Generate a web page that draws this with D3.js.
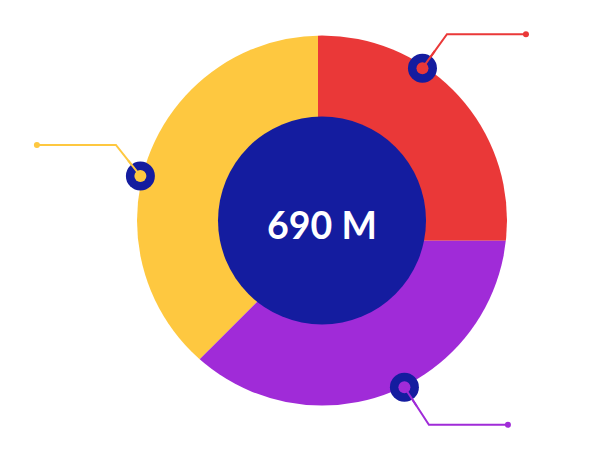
<!DOCTYPE html>
<html>
<head>
<meta charset="utf-8">
<script src="https://cdn.jsdelivr.net/npm/d3@7"></script>
<style>
  html, body { margin: 0; padding: 0; background: #fff; }
  svg { display: block; }
</style>
</head>
<body>
<div id="chart"></div>
<script>
// slice data (clockwise from 12 o'clock)
var labels = ["Red", "Purple", "Yellow"];
var values = [25, 37.5, 37.5];
var colors = ["#ea3838", "#a02bd8", "#fec840"];
// where each marker sits on the rim (degrees, clockwise from top)
var markerAngles = [33.4, 153.7, 283.8];
var totalLabel = "690 M";

var width = 614;
var height = 457;

// ring geometry
var cx = 322, cy = 220.5;
var outerR = 185;
var innerR = 104;
// slices fan out from a point a bit below-left of the ring centre
var pieX = 318, pieY = 240.7;

// marker radius + leader elbow rise, per slice
var markRs = [182.5, 186, 187];
var rises = [-34, 37.5, -31];

var svg = d3.select("#chart")
    .append("svg")
    .attr("width", width)
    .attr("height", height);

svg.append("clipPath")
    .attr("id", "ringClip")
    .append("circle")
    .attr("cx", cx)
    .attr("cy", cy)
    .attr("r", outerR);

var pie = d3.pie().sort(null).value(function(d){ return d; });
var arc = d3.arc().innerRadius(0).outerRadius(400);

var slices = svg.append("g")
    .attr("clip-path", "url(#ringClip)")
    .append("g")
    .attr("transform", "translate(" + pieX + "," + pieY + ")");

slices.selectAll("path")
    .data(pie(values))
    .enter()
    .append("path")
    .attr("d", arc)
    .attr("fill", function(d, i){ return colors[i]; });

// centre disc + total
svg.append("circle")
    .attr("cx", cx)
    .attr("cy", cy)
    .attr("r", innerR)
    .attr("fill", "#141c9f");

svg.append("text")
    .attr("x", cx)
    .attr("y", cy + 18.5)
    .attr("text-anchor", "middle")
    .attr("fill", "#fff")
    .attr("font-family", "Lato, sans-serif")
    .attr("font-weight", 700)
    .attr("font-size", 37.5)
    .text(totalLabel);

// markers with elbow leader lines
var rad = Math.PI / 180;
var markers = markerAngles.map(function(a, i){
    var x = cx + markRs[i] * Math.sin(a * rad);
    var y = cy - markRs[i] * Math.cos(a * rad);
    var sx = x >= cx ? 1 : -1;
    var ex = x + sx * 24.5;
    var ey = y + rises[i];
    return { x: x, y: y, ex: ex, ey: ey, hx: ex + sx * 79, color: colors[i] };
});

var mg = svg.append("g");

mg.selectAll("polyline")
    .data(markers)
    .enter()
    .append("polyline")
    .attr("points", function(d){
        return [[d.x, d.y], [d.ex, d.ey], [d.hx, d.ey]].join(" ");
    })
    .attr("fill", "none")
    .attr("stroke", function(d){ return d.color; })
    .attr("stroke-width", 2);

mg.selectAll("circle.end")
    .data(markers)
    .enter()
    .append("circle")
    .attr("class", "end")
    .attr("cx", function(d){ return d.hx; })
    .attr("cy", function(d){ return d.ey; })
    .attr("r", 3)
    .attr("fill", function(d){ return d.color; });

mg.selectAll("circle.ring")
    .data(markers)
    .enter()
    .append("circle")
    .attr("class", "ring")
    .attr("cx", function(d){ return d.x; })
    .attr("cy", function(d){ return d.y; })
    .attr("r", 14.5)
    .attr("fill", "#141c9f");

mg.selectAll("circle.dot")
    .data(markers)
    .enter()
    .append("circle")
    .attr("class", "dot")
    .attr("cx", function(d){ return d.x; })
    .attr("cy", function(d){ return d.y; })
    .attr("r", 6)
    .attr("fill", function(d){ return d.color; });

// leader line runs over the inner dot
mg.selectAll("line.stub")
    .data(markers)
    .enter()
    .append("line")
    .attr("class", "stub")
    .attr("x1", function(d){ return d.x; })
    .attr("y1", function(d){ return d.y; })
    .attr("x2", function(d){ return d.x + (d.ex - d.x) * 0.5; })
    .attr("y2", function(d){ return d.y + (d.ey - d.y) * 0.5; })
    .attr("stroke", function(d){ return d.color; })
    .attr("stroke-width", 2);
</script>
</body>
</html>
